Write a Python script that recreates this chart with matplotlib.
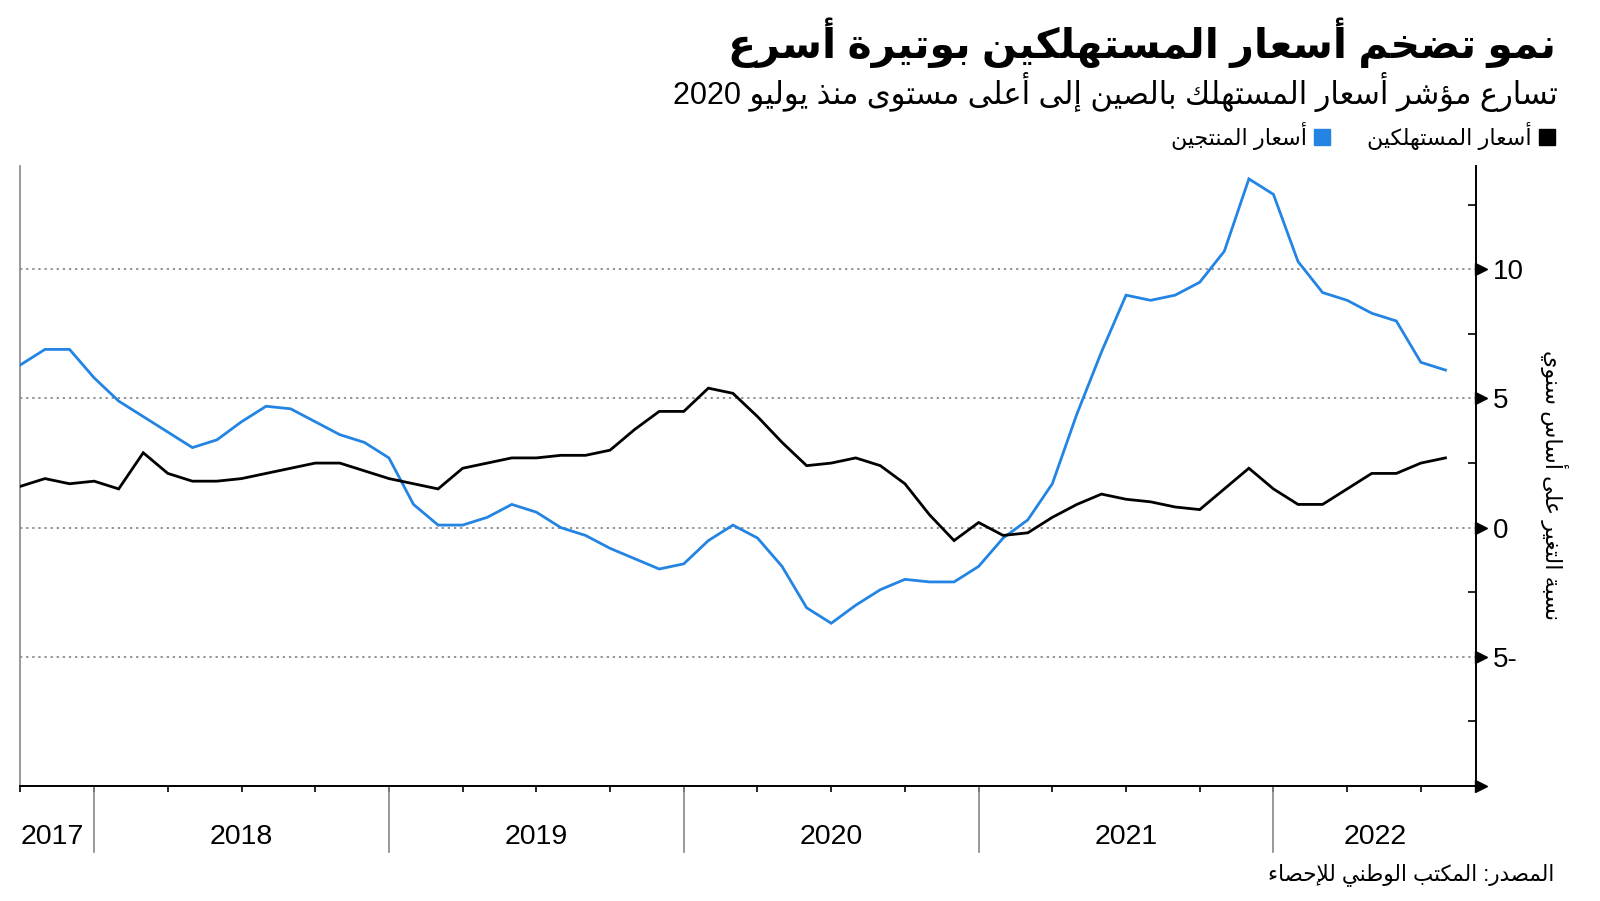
import re
import matplotlib
matplotlib.use("Agg")
import matplotlib.pyplot as plt
import matplotlib.transforms as mtransforms
from matplotlib.lines import Line2D

plt.rcParams['font.family'] = ['Liberation Sans', 'DejaVu Sans']

# Consumer prices (CPI), % y/y, one value per month on the chart
cpi = [1.6, 1.9, 1.7, 1.8,
       1.5, 2.9, 2.1, 1.8, 1.8, 1.9, 2.1, 2.3, 2.5, 2.5, 2.2, 1.9,
       1.7, 1.5, 2.3, 2.5, 2.7, 2.7, 2.8, 2.8, 3.0, 3.8, 4.5, 4.5,
       5.4, 5.2, 4.3, 3.3, 2.4, 2.5, 2.7, 2.4, 1.7, 0.5, -0.5, 0.2,
       -0.3, -0.2, 0.4, 0.9, 1.3, 1.1, 1.0, 0.8, 0.7, 1.5, 2.3, 1.5,
       0.9, 0.9, 1.5, 2.1, 2.1, 2.5, 2.7]
# Producer prices (PPI), % y/y
ppi = [6.3, 6.9, 6.9, 5.8, 4.9,
       4.3, 3.7, 3.1, 3.4, 4.1, 4.7, 4.6, 4.1, 3.6, 3.3, 2.7, 0.9,
       0.1, 0.1, 0.4, 0.9, 0.6, 0.0, -0.3, -0.8, -1.2, -1.6, -1.4, -0.5,
       0.1, -0.4, -1.5, -3.1, -3.7, -3.0, -2.4, -2.0, -2.1, -2.1, -1.5, -0.4,
       0.3, 1.7, 4.4, 6.8, 9.0, 8.8, 9.0, 9.5, 10.7, 13.5, 12.9, 10.3,
       9.1, 8.8, 8.3, 8.0, 6.4, 6.1]

years = ['2017', '2018', '2019', '2020', '2021', '2022']
year_starts = [3, 15, 27, 39, 51]   # month index where each new year begins
y_ticks = [-10, -5, 0, 5, 10]

title = 'نمو تضخم أسعار المستهلكين بوتيرة أسرع'
subtitle = 'تسارع مؤشر أسعار المستهلك بالصين إلى أعلى مستوى منذ يوليو 2020'
label_cpi = 'أسعار المستهلكين'
label_ppi = 'أسعار المنتجين'
y_label = 'نسبة التغير على أساس سنوي'
source = 'المصدر: المكتب الوطني للإحصاء'

BLUE = '#2384e3'

# --- minimal Arabic shaping (matplotlib has no complex text layout) ---
DUAL = {'ئ': 0xFE89, 'ب': 0xFE8F, 'ت': 0xFE95, 'ث': 0xFE99, 'ج': 0xFE9D,
        'ح': 0xFEA1, 'خ': 0xFEA5, 'س': 0xFEB1, 'ش': 0xFEB5, 'ص': 0xFEB9,
        'ض': 0xFEBD, 'ط': 0xFEC1, 'ظ': 0xFEC5, 'ع': 0xFEC9, 'غ': 0xFECD,
        'ف': 0xFED1, 'ق': 0xFED5, 'ك': 0xFED9, 'ل': 0xFEDD, 'م': 0xFEE1,
        'ن': 0xFEE5, 'ه': 0xFEE9, 'ي': 0xFEF1}
RIGHT = {'آ': 0xFE81, 'أ': 0xFE83, 'ؤ': 0xFE85, 'إ': 0xFE87, 'ا': 0xFE8D,
         'ة': 0xFE93, 'د': 0xFEA9, 'ذ': 0xFEAB, 'ر': 0xFEAD, 'ز': 0xFEAF,
         'و': 0xFEED, 'ى': 0xFEEF}
NONJOIN = {'ء': 0xFE80}
LAM_ALEF = {'آ': 0xFEF5, 'أ': 0xFEF7, 'إ': 0xFEF9, 'ا': 0xFEFB}


def ar(text):
    out = []
    prev_joins = False
    i = 0
    while i < len(text):
        c = text[i]
        nxt = text[i + 1] if i + 1 < len(text) else ''
        if c == 'ل' and nxt in LAM_ALEF:
            out.append(chr(LAM_ALEF[nxt] + (1 if prev_joins else 0)))
            prev_joins = False
            i += 2
            continue
        if c in DUAL:
            next_ok = nxt in DUAL or nxt in RIGHT
            if prev_joins and next_ok:
                f = 3
            elif prev_joins:
                f = 1
            elif next_ok:
                f = 2
            else:
                f = 0
            out.append(chr(DUAL[c] + f))
            prev_joins = True
        elif c in RIGHT:
            out.append(chr(RIGHT[c] + (1 if prev_joins else 0)))
            prev_joins = False
        elif c in NONJOIN:
            out.append(chr(NONJOIN[c]))
            prev_joins = False
        else:
            out.append(c)
            prev_joins = False
        i += 1
    vis = ''.join(out)[::-1]
    # keep numbers left-to-right
    return re.sub(r'[0-9]+', lambda m: m.group(0)[::-1], vis)


fig = plt.figure(figsize=(16, 9.01), dpi=100)
ax = fig.add_axes([0.01275, 0.1276, 0.91, 0.6882])

x = list(range(len(cpi)))
ax.plot(x, ppi, color=BLUE, lw=2.0, solid_joinstyle='miter', zorder=3)
ax.plot(x, cpi, color='black', lw=2.0, solid_joinstyle='miter', zorder=4)

ax.set_xlim(0, 59.26)
ax.set_ylim(-10, 14)

# spines
ax.spines['top'].set_visible(False)
ax.spines['left'].set_color('#888888')
ax.spines['left'].set_linewidth(1.2)
ax.spines['right'].set_color('black')
ax.spines['right'].set_linewidth(1.4)
ax.spines['bottom'].set_color('black')
ax.spines['bottom'].set_linewidth(1.4)

# y axis on the right
ax.yaxis.tick_right()
ax.set_yticks(y_ticks)
ax.set_yticklabels(['' if v == -10 else (f'{abs(v)}-' if v < 0 else str(v)) for v in y_ticks])
ax.set_yticks([12.5, 7.5, 2.5, -2.5, -7.5], minor=True)
ax.tick_params(axis='y', which='major', length=0, pad=12, labelsize=20)
ax.tick_params(axis='y', which='minor', direction='in', length=6, width=1.2, right=True, left=False)
ax.grid(axis='y', which='major', color='#777777', linestyle=(0, (1.5, 2.5)), lw=1.1)

tri = mtransforms.blended_transform_factory(ax.transAxes, ax.transData)
tri = tri + mtransforms.ScaledTranslation(5 / 100, 0, fig.dpi_scale_trans)
ax.plot([1.0] * len(y_ticks), y_ticks, ls='none', marker='>', markersize=8,
        color='black', transform=tri, clip_on=False, zorder=5)

# x axis: quarterly small ticks, long separators between years
ax.set_xticks(range(0, 59, 3))
ax.set_xticklabels([])
ax.tick_params(axis='x', which='major', direction='out', length=4, width=1.2)
for xs in year_starts:
    ax.axvline(xs, ymin=-0.107, ymax=0, color='#888888', lw=1.2, clip_on=False)

bounds = [0] + year_starts + [59.26]
ylab = mtransforms.blended_transform_factory(ax.transData, ax.transAxes)
for k, yr in enumerate(years):
    cx = (bounds[k] + bounds[k + 1]) / 2
    if k == 0:
        cx -= 0.2
    ax.text(cx, -0.082, yr, transform=ylab, ha='center', va='center', fontsize=20.5)

# titles
fig.text(0.9725, 0.953, ar(title), ha='right', va='center', fontsize=29.5, fontweight='bold')
fig.text(0.9735, 0.8975, ar(subtitle), ha='right', va='center', fontsize=22)

handles = [Line2D([], [], ls='none', marker='s', markersize=11, color=BLUE),
           Line2D([], [], ls='none', marker='s', markersize=11, color='black')]
fig.legend(handles, [ar(label_ppi), ar(label_cpi)], loc='center right',
           bbox_to_anchor=(0.9725, 0.849), ncol=2, markerfirst=False, frameon=False,
           fontsize=16, handlelength=0.8, handletextpad=0.3, columnspacing=1.6,
           borderpad=0, borderaxespad=0)

fig.text(0.9715, 0.4617, ar(y_label), rotation=270, ha='center', va='center', fontsize=16)
fig.text(0.9715, 0.0289, ar(source), ha='right', va='center', fontsize=15.5)

fig.savefig('out.png', dpi=100)
